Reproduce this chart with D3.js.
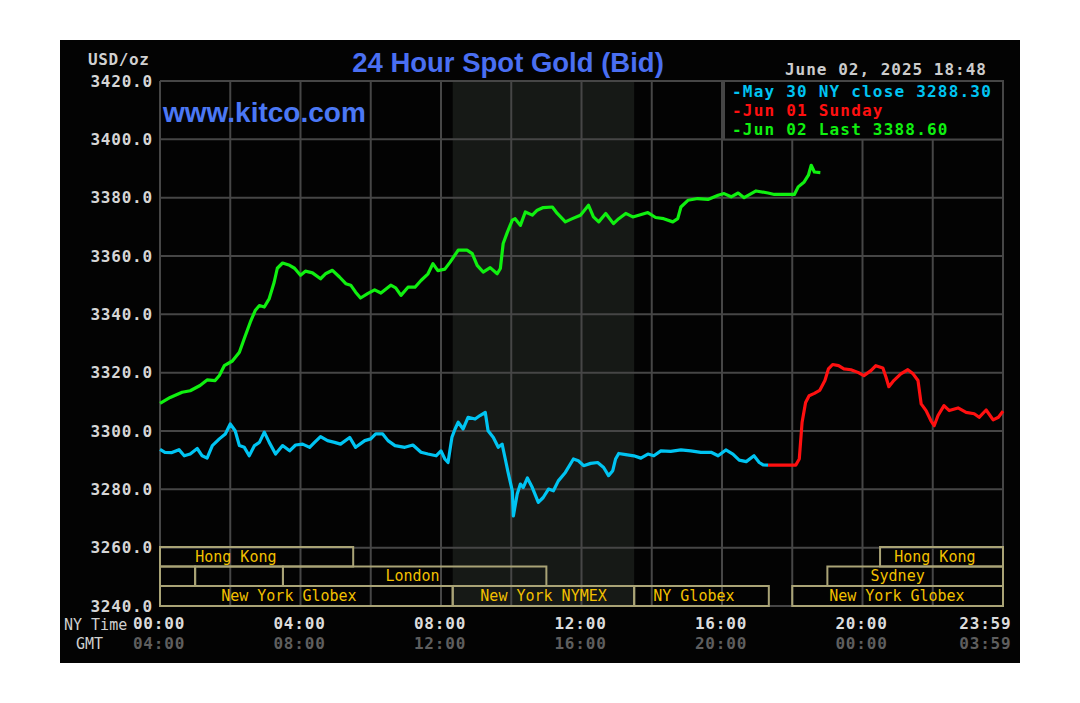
<!DOCTYPE html>
<html>
<head>
<meta charset="utf-8">
<script src="https://cdnjs.cloudflare.com/ajax/libs/d3/7.8.5/d3.min.js"></script>
<style>
  body { margin: 0; background: #fff; }
  svg { display: block; }
  .mono { font-family: "DejaVu Sans Mono", "Liberation Mono", monospace; }
</style>
</head>
<body>
<div class="chart"></div>
<script>
// hours after NY midnight, bid price
var may30 = [[0,3293.7],[0.14,3292.7],[0.34,3292.6],[0.54,3293.6],[0.69,3291.5],[0.86,3292.1],[1.06,3294],[1.2,3291.5],[1.34,3290.7],[1.49,3295],[1.69,3297.3],[1.86,3299],[2.0,3302.4],[2.14,3300.1],[2.26,3295],[2.4,3294.4],[2.54,3291.5],[2.69,3295],[2.83,3296.1],[2.97,3299.6],[3.11,3296.1],[3.29,3292.1],[3.49,3295],[3.69,3293.2],[3.86,3295.2],[4.06,3295.5],[4.26,3294.4],[4.4,3296.1],[4.57,3298.1],[4.77,3296.7],[4.97,3296.1],[5.14,3295.5],[5.4,3297.8],[5.57,3294.4],[5.83,3296.7],[6.0,3297.3],[6.14,3299],[6.34,3299],[6.49,3296.7],[6.69,3295],[6.97,3294.4],[7.2,3295.2],[7.43,3292.7],[7.63,3292.1],[7.86,3291.5],[8.0,3293.2],[8.11,3290.4],[8.2,3289.2],[8.31,3297.8],[8.4,3300.7],[8.49,3303],[8.63,3300.7],[8.77,3304.7],[8.97,3304.1],[9.11,3305.3],[9.26,3306.4],[9.34,3300.1],[9.49,3297.8],[9.63,3294.4],[9.74,3295.5],[9.83,3290.4],[9.91,3285.8],[10.03,3279.5],[10.06,3270.9],[10.17,3278.4],[10.26,3281.8],[10.34,3280.6],[10.46,3283.9],[10.6,3280.6],[10.77,3275.5],[10.91,3277.2],[11.06,3280.1],[11.2,3279.5],[11.34,3282.9],[11.54,3285.8],[11.77,3290.4],[11.91,3289.8],[12.06,3288.1],[12.26,3288.9],[12.46,3289.2],[12.63,3287.5],[12.77,3284.7],[12.89,3286.4],[12.97,3290.4],[13.06,3292.3],[13.26,3291.9],[13.49,3291.5],[13.69,3290.7],[13.89,3292.1],[14.06,3291.5],[14.26,3293.2],[14.54,3293],[14.83,3293.5],[15.11,3293.2],[15.4,3292.7],[15.69,3292.7],[15.89,3291.5],[16.11,3293.5],[16.31,3292.1],[16.49,3290],[16.69,3289.5],[16.91,3291.5],[17.06,3289.2],[17.17,3288.4],[17.31,3288.3]];

var jun01 = [[17.31,3288.3],[18.1,3288.3],[18.2,3290.4],[18.28,3303],[18.38,3309.8],[18.48,3312.1],[18.63,3312.9],[18.78,3313.9],[18.93,3317.3],[19.03,3321.3],[19.15,3322.8],[19.32,3322.4],[19.47,3321.3],[19.67,3321],[19.87,3320.1],[20.04,3319],[20.24,3320.7],[20.38,3322.4],[20.58,3321.6],[20.67,3318.4],[20.75,3315.2],[20.89,3317.3],[21.09,3319.6],[21.29,3321],[21.44,3319.6],[21.58,3317.3],[21.67,3309.3],[21.81,3307],[21.95,3303.5],[22.04,3301.8],[22.15,3305.3],[22.32,3308.7],[22.47,3307],[22.72,3307.9],[22.95,3306.4],[23.18,3305.9],[23.32,3304.7],[23.52,3307.2],[23.72,3303.8],[23.87,3304.7],[24,3306.8]];

var jun02 = [[0,3309.5],[0.29,3311.5],[0.63,3313.3],[0.86,3313.8],[1.14,3315.6],[1.34,3317.5],[1.57,3317.3],[1.69,3319],[1.83,3322.4],[2.06,3324],[2.26,3327],[2.4,3331.7],[2.57,3337.3],[2.71,3341.3],[2.83,3343],[2.97,3342.5],[3.11,3345.4],[3.25,3351],[3.34,3355.8],[3.49,3357.6],[3.69,3356.8],[3.83,3355.8],[4.0,3353.4],[4.14,3354.8],[4.34,3354.2],[4.57,3352.2],[4.71,3353.9],[4.91,3355.1],[5.11,3352.8],[5.29,3350.5],[5.43,3350],[5.57,3347.6],[5.71,3345.6],[5.91,3347.1],[6.11,3348.4],[6.29,3347.3],[6.57,3350],[6.71,3349.1],[6.86,3346.5],[7.06,3349.3],[7.26,3349.3],[7.43,3351.6],[7.63,3353.9],[7.77,3357.4],[7.91,3355],[8.11,3355.5],[8.26,3357.9],[8.49,3362],[8.74,3362],[8.89,3360.8],[9.03,3356.8],[9.2,3354.5],[9.4,3356],[9.6,3353.9],[9.69,3355.7],[9.77,3364.3],[9.89,3368.2],[10.03,3372.3],[10.11,3372.8],[10.26,3370.5],[10.4,3375.1],[10.6,3374],[10.74,3375.7],[10.91,3376.6],[11.17,3376.8],[11.31,3374.6],[11.54,3371.7],[11.74,3372.8],[11.97,3374],[12.2,3377.4],[12.34,3373.4],[12.49,3371.7],[12.69,3374.6],[12.91,3371.1],[13.06,3372.8],[13.26,3374.6],[13.46,3373.4],[13.63,3374],[13.89,3374.9],[14.11,3373.2],[14.34,3372.8],[14.6,3371.7],[14.74,3372.8],[14.83,3376.8],[15.03,3379.1],[15.31,3379.7],[15.6,3379.4],[15.89,3380.8],[16.06,3381.4],[16.26,3380.3],[16.46,3381.6],[16.63,3380],[16.97,3382.3],[17.31,3381.6],[17.49,3381.1],[18.06,3381.1],[18.17,3383.7],[18.34,3385.4],[18.46,3387.7],[18.54,3391.1],[18.63,3388.8],[18.8,3388.6]];

var yTicks = [3240, 3260, 3280, 3300, 3320, 3340, 3360, 3380, 3400, 3420];
var xTickHours = [0, 4, 8, 12, 16, 20, 23.983];
var nyLabels = ["00:00", "04:00", "08:00", "12:00", "16:00", "20:00", "23:59"];
var gmtLabels = ["04:00", "08:00", "12:00", "16:00", "20:00", "00:00", "03:59"];

var legendLabels = ["-May 30 NY close 3288.30", "-Jun 01 Sunday", "-Jun 02 Last 3388.60"];
var seriesColors = ["#00c4f2", "#ff1010", "#10f010"];

// trading sessions: start hour, end hour, row, label, label centre hour
var sessStart = [0, 0, 1, 3.5, 0, 8.333, 13.5, 18, 19, 20.5];
var sessEnd = [5.5, 1, 3.5, 11, 8.333, 13.5, 17.333, 24, 24, 24];
var sessRow = [0, 1, 1, 1, 2, 2, 2, 2, 1, 0];
var sessLabel = ["Hong Kong", "", "", "London", "New York Globex", "New York NYMEX", "NY Globex", "New York Globex", "Sydney", "Hong Kong"];
var sessLabelAt = [2.16, 0, 0, 7.19, 3.67, 10.92, 15.2, 20.98, 21.0, 22.06];

var nyOpen = [8.333, 13.5];

var width = 1080, height = 703;
var plot = {left: 160, right: 1003, top: 81, bottom: 606};

var svg = d3.select("div.chart").append("svg")
    .attr("width", width)
    .attr("height", height);

svg.append("rect")
    .attr("x", 60).attr("y", 40)
    .attr("width", 960).attr("height", 623)
    .attr("fill", "#030303");

var x = d3.scaleLinear().domain([0, 24]).range([plot.left, plot.right]);
var y = d3.scaleLinear().domain([3240, 3420]).range([plot.bottom, plot.top]);

// NY session shading
svg.append("rect")
    .attr("x", x(nyOpen[0])).attr("y", plot.top)
    .attr("width", x(nyOpen[1]) - x(nyOpen[0]))
    .attr("height", plot.bottom - plot.top)
    .attr("fill", "#161916");

// grid
var gridColor = "#464646";
svg.selectAll("line.vgrid")
    .data(d3.range(0, 25, 2))
    .enter().append("line")
    .attr("class", "vgrid")
    .attr("x1", function (d) { return x(d); })
    .attr("x2", function (d) { return x(d); })
    .attr("y1", plot.top).attr("y2", plot.bottom)
    .attr("stroke", gridColor).attr("stroke-width", 2);

svg.selectAll("line.hgrid")
    .data(yTicks)
    .enter().append("line")
    .attr("class", "hgrid")
    .attr("x1", plot.left).attr("x2", plot.right)
    .attr("y1", function (d) { return y(d); })
    .attr("y2", function (d) { return y(d); })
    .attr("stroke", gridColor).attr("stroke-width", 2);

// session boxes
var rowTop = [547, 566.5, 586];
var rowH = [19.5, 19.5, 20];
var sessions = d3.range(sessStart.length);
svg.selectAll("rect.sess")
    .data(sessions)
    .enter().append("rect")
    .attr("class", "sess")
    .attr("x", function (i) { return x(sessStart[i]); })
    .attr("y", function (i) { return rowTop[sessRow[i]]; })
    .attr("width", function (i) { return x(sessEnd[i]) - x(sessStart[i]); })
    .attr("height", function (i) { return rowH[sessRow[i]]; })
    .attr("fill", "none")
    .attr("stroke", "#a9a376")
    .attr("stroke-width", 2);

svg.selectAll("text.sess")
    .data(sessions.filter(function (i) { return sessLabel[i]; }))
    .enter().append("text")
    .attr("class", "sess mono")
    .attr("x", function (i) { return x(sessLabelAt[i]); })
    .attr("y", function (i) { return rowTop[sessRow[i]] + 14.5; })
    .attr("text-anchor", "middle")
    .attr("fill", "#f2c000")
    .style("font-size", "15px")
    .text(function (i) { return sessLabel[i]; });

// price lines
var line = d3.line()
    .x(function (d) { return x(d[0]); })
    .y(function (d) { return y(d[1]); });

[may30, jun01, jun02].forEach(function (series, i) {
    svg.append("path")
        .datum(series)
        .attr("d", line)
        .attr("fill", "none")
        .attr("stroke", seriesColors[i])
        .attr("stroke-width", 3.2)
        .attr("stroke-linejoin", "round");
});

// y axis labels
var yAxis = d3.axisLeft(y)
    .tickValues(yTicks)
    .tickSize(0)
    .tickPadding(7)
    .tickFormat(d3.format(".1f"));
var yg = svg.append("g")
    .attr("transform", "translate(" + plot.left + ",0)")
    .call(yAxis);
yg.select(".domain").remove();
yg.selectAll("text")
    .attr("class", "mono")
    .attr("fill", "#d6d6d6")
    .style("font-size", "16px")
    .style("font-weight", "bold")
    .style("letter-spacing", "0.8px");

// x axis labels, NY and GMT
svg.selectAll("text.ny")
    .data(xTickHours)
    .enter().append("text")
    .attr("class", "ny mono")
    .attr("x", function (d, i) { return i === xTickHours.length - 1 ? x(d) - 17 : x(d) - 1; })
    .attr("y", 629)
    .attr("text-anchor", "middle")
    .attr("fill", "#dcdcdc")
    .style("font-size", "16px")
    .style("font-weight", "bold")
    .style("letter-spacing", "0.8px")
    .text(function (d, i) { return nyLabels[i]; });

svg.selectAll("text.gmt")
    .data(xTickHours)
    .enter().append("text")
    .attr("class", "gmt mono")
    .attr("x", function (d, i) { return i === xTickHours.length - 1 ? x(d) - 17 : x(d) - 1; })
    .attr("y", 649)
    .attr("text-anchor", "middle")
    .attr("fill", "#5e5e5e")
    .style("font-size", "16px")
    .style("font-weight", "bold")
    .style("letter-spacing", "0.8px")
    .text(function (d, i) { return gmtLabels[i]; });

svg.append("text").attr("class", "mono")
    .attr("x", 64).attr("y", 630)
    .attr("fill", "#cfcfcf").style("font-size", "15px")
    .text("NY Time");
svg.append("text").attr("class", "mono")
    .attr("x", 76).attr("y", 649)
    .attr("fill", "#cfcfcf").style("font-size", "15px")
    .text("GMT");

// legend
svg.append("rect")
    .attr("x", 724).attr("y", 81)
    .attr("width", plot.right - 724).attr("height", 58.5)
    .attr("fill", "#030303")
    .attr("stroke", gridColor).attr("stroke-width", 2);
svg.selectAll("text.legend")
    .data(legendLabels)
    .enter().append("text")
    .attr("class", "legend mono")
    .attr("x", 732)
    .attr("y", function (d, i) { return 96.5 + i * 19; })
    .attr("fill", function (d, i) { return seriesColors[i]; })
    .style("font-size", "16px")
    .style("font-weight", "bold")
    .style("letter-spacing", "1.2px")
    .text(function (d) { return d; });

// titles
svg.append("text").attr("class", "mono")
    .attr("x", 88).attr("y", 65)
    .attr("fill", "#d0d0d0")
    .style("font-size", "16px").style("font-weight", "bold")
    .style("letter-spacing", "0.6px")
    .text("USD/oz");

svg.append("text").attr("class", "mono")
    .attr("x", 987).attr("y", 75)
    .attr("text-anchor", "end")
    .attr("fill", "#cccccc")
    .style("font-size", "16px").style("font-weight", "bold")
    .style("letter-spacing", "1px")
    .text("June 02, 2025 18:48");

svg.append("text")
    .attr("x", 508).attr("y", 72)
    .attr("text-anchor", "middle")
    .attr("fill", "#4a6ff2")
    .style("font-family", "Liberation Sans, Arial, sans-serif")
    .style("font-size", "27.5px").style("font-weight", "bold")
    .text("24 Hour Spot Gold (Bid)");

svg.append("text")
    .attr("x", 163).attr("y", 122)
    .attr("fill", "#4b78f5")
    .style("font-family", "Liberation Sans, Arial, sans-serif")
    .style("font-size", "28px").style("font-weight", "bold")
    .text("www.kitco.com");
</script>
</body>
</html>
